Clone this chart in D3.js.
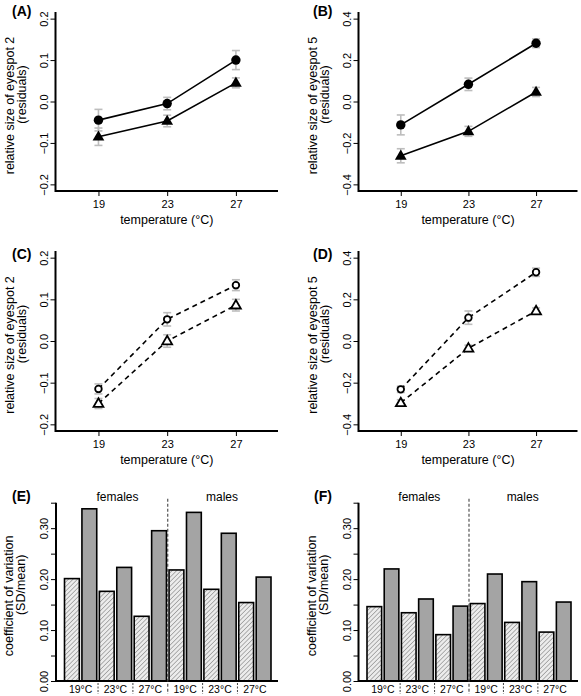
<!DOCTYPE html>
<html>
<head>
<meta charset="utf-8">
<script src="https://cdn.jsdelivr.net/npm/d3@7"></script>
<style>
  body { margin: 0; background: #fff; }
  svg { display: block; font-family: "Liberation Sans", Arial, Helvetica, sans-serif; }
</style>
</head>
<body>
<svg id="chart" width="581" height="696"></svg>
<script>
// ---------- DATA ----------
const temps = [19, 23, 27];

// Panel A: eyespot 2 (filled symbols)
const aCircle = [-0.045, -0.005, 0.100];
const aCircleErr = [0.026, 0.015, 0.023];
const aTriangle = [-0.085, -0.047, 0.045];
const aTriangleErr = [0.021, 0.014, 0.012];

// Panel B: eyespot 5 (filled symbols)
const bCircle = [-0.113, 0.083, 0.281];
const bCircleErr = [0.048, 0.030, 0.021];
const bTriangle = [-0.262, -0.144, 0.046];
const bTriangleErr = [0.034, 0.024, 0.022];

// Panel C: eyespot 2 (open symbols)
const cCircle = [-0.115, 0.052, 0.134];
const cCircleErr = [0.012, 0.016, 0.013];
const cTriangle = [-0.150, 0.000, 0.086];
const cTriangleErr = [0.012, 0.015, 0.014];

// Panel D: eyespot 5 (open symbols)
const dCircle = [-0.232, 0.112, 0.330];
const dCircleErr = [0.015, 0.032, 0.020];
const dTriangle = [-0.297, -0.035, 0.144];
const dTriangleErr = [0.015, 0.015, 0.015];

const lineTicksA = [-0.2, -0.1, 0.0, 0.1, 0.2];
const lineTicksB = [-0.4, -0.2, 0.0, 0.2, 0.4];

// Panels E, F: coefficient of variation (hatched, solid alternating)
const barLabels = ["19°C", "23°C", "27°C", "19°C", "23°C", "27°C"];
const sexLabels = ["females", "males"];
const eValues = [0.201, 0.338, 0.176, 0.223, 0.127, 0.295, 0.218, 0.331, 0.180, 0.290, 0.154, 0.204];
const fValues = [0.146, 0.220, 0.134, 0.161, 0.091, 0.147, 0.152, 0.210, 0.115, 0.195, 0.096, 0.155];
const barTicks = [0, 0.05, 0.10, 0.15, 0.20, 0.25, 0.30, 0.35];
const barTickLabels = ["0.00", "", "0.10", "", "0.20", "", "0.30", ""];

// ---------- DRAWING ----------
const svg = d3.select("#chart");
const defs = svg.append("defs");
const pat = defs.append("pattern").attr("id", "hatch")
  .attr("patternUnits", "userSpaceOnUse").attr("width", 3.2).attr("height", 3.2)
  .attr("patternTransform", "rotate(45)");
pat.append("rect").attr("width", 3.2).attr("height", 3.2).attr("fill", "#ececec");
pat.append("line").attr("x1", 0).attr("y1", 0).attr("x2", 0).attr("y2", 3.2)
  .attr("stroke", "#8c8c8c").attr("stroke-width", 1.3);

const fmt = v => (v < 0 ? "\u2212" : "") + Math.abs(v).toFixed(1);
const triPath = d3.symbol().type(d3.symbolTriangle);

function yTitle(g, cx, cy, l1, l2) {
  g.append("text").attr("transform", `translate(${cx + 13},${cy + 4}) rotate(-90)`)
    .attr("text-anchor", "middle").attr("font-size", 12.5).text(l1);
  g.append("text").attr("transform", `translate(${cx + 25},${cy - 7}) rotate(-90)`)
    .attr("text-anchor", "middle").attr("font-size", 12.5).text(l2);
}

function panelLetter(x, y, t) {
  svg.append("text").attr("x", x).attr("y", y).attr("font-size", 14)
    .attr("font-weight", "bold").text(t);
}

function linePanel(opt) {
  const { left, right, top, bottom, ylim, ticks, series, open, dashed, title2 } = opt;
  const x = d3.scaleLinear().domain([16.5, 29.45]).range([left, right]);
  const y = d3.scaleLinear().domain(ylim).range([bottom, top]);
  const g = svg.append("g");

  // y axis ticks
  const ya = g.append("g").attr("transform", `translate(${left},0)`)
    .call(d3.axisLeft(y).tickValues(ticks).tickSize(5).tickFormat(fmt));
  ya.select(".domain").remove();
  ya.selectAll("line").attr("stroke", "#000").attr("stroke-width", 1);
  ya.selectAll("text").attr("transform", "rotate(-90)").attr("x", 0).attr("y", -8)
    .attr("dy", 0).attr("text-anchor", "middle").attr("font-size", 11).attr("fill", "#000");

  // x axis ticks
  const xa = g.append("g").attr("transform", `translate(0,${bottom})`)
    .call(d3.axisBottom(x).tickValues(temps).tickSize(5).tickFormat(d3.format("d")));
  xa.select(".domain").remove();
  xa.selectAll("line").attr("stroke", "#000").attr("stroke-width", 1);
  xa.selectAll("text").attr("font-size", 11).attr("fill", "#000").attr("y", 9);

  // L box
  g.append("path").attr("d", `M${left},${top}V${bottom}H${right}`)
    .attr("fill", "none").attr("stroke", "#000").attr("stroke-width", 2);

  // titles
  g.append("text").attr("x", (left + right) / 2).attr("y", bottom + 33)
    .attr("text-anchor", "middle").attr("font-size", 12.5).text("temperature (°C)");
  yTitle(g, left - 55, (top + bottom) / 2, title2, "(residuals)");

  const line = d3.line().x((d, i) => x(temps[i])).y(d => y(d));
  series.forEach(s => {
    // error bars
    const eb = g.append("g").attr("stroke", "#bdbdbd").attr("stroke-width", 1.6);
    s.vals.forEach((v, i) => {
      const cx = x(temps[i]);
      eb.append("line").attr("x1", cx).attr("x2", cx).attr("y1", y(v - s.err[i])).attr("y2", y(v + s.err[i]));
      eb.append("line").attr("x1", cx - 4).attr("x2", cx + 4).attr("y1", y(v - s.err[i])).attr("y2", y(v - s.err[i]));
      eb.append("line").attr("x1", cx - 4).attr("x2", cx + 4).attr("y1", y(v + s.err[i])).attr("y2", y(v + s.err[i]));
    });
  });
  series.forEach(s => {
    g.append("path").datum(s.vals).attr("d", line).attr("fill", "none")
      .attr("stroke", "#000").attr("stroke-width", 1.6)
      .attr("stroke-dasharray", dashed ? "5,4" : null);
  });
  series.forEach(s => {
    s.vals.forEach((v, i) => {
      const cx = x(temps[i]), cy = y(v);
      if (s.shape === "circle") {
        if (open) {
          g.append("circle").attr("cx", cx).attr("cy", cy).attr("r", 3.3)
            .attr("fill", "#fff").attr("stroke", "#000").attr("stroke-width", 1.8);
        } else {
          g.append("circle").attr("cx", cx).attr("cy", cy).attr("r", 4.7).attr("fill", "#000");
        }
      } else {
        if (open) {
          g.append("path").attr("d", triPath.size(42)()).attr("transform", `translate(${cx},${cy + 0.5})`)
            .attr("fill", "#fff").attr("stroke", "#000").attr("stroke-width", 1.8);
        } else {
          g.append("path").attr("d", triPath.size(60)()).attr("transform", `translate(${cx},${cy + 0.5})`)
            .attr("fill", "#000");
        }
      }
    });
  });
}

function barPanel(opt) {
  const { left, right, top, bottom, values } = opt;
  const y = d3.scaleLinear().domain([0, 0.35]).range([bottom, top]);
  const x = d3.scaleBand().domain(d3.range(values.length)).range([left + 8.5, right - 7])
    .paddingInner(0.15).paddingOuter(0);
  const g = svg.append("g");

  const ya = g.append("g").attr("transform", `translate(${left},0)`)
    .call(d3.axisLeft(y).tickValues(barTicks).tickSize(5).tickFormat((d, i) => barTickLabels[i]));
  ya.select(".domain").remove();
  ya.selectAll("line").attr("stroke", "#000").attr("stroke-width", 1);
  ya.selectAll("text").attr("transform", "rotate(-90)").attr("x", 0).attr("y", -8)
    .attr("dy", 0).attr("text-anchor", "middle").attr("font-size", 11).attr("fill", "#000");

  g.selectAll("rect.bar").data(values).join("rect").attr("class", "bar")
    .attr("x", (d, i) => x(i)).attr("width", x.bandwidth())
    .attr("y", d => y(d)).attr("height", d => y(0) - y(d))
    .attr("fill", (d, i) => i % 2 === 0 ? "url(#hatch)" : "#a4a4a4")
    .attr("stroke", "#000").attr("stroke-width", 1.6);

  g.append("path").attr("d", `M${left},${top}V${bottom}H${right}`)
    .attr("fill", "none").attr("stroke", "#000").attr("stroke-width", 2);

  const step = x.step(), gap = step - x.bandwidth();
  // separators and group labels
  barLabels.forEach((lab, k) => {
    const cx = (x(2 * k) + x(2 * k + 1) + x.bandwidth()) / 2;
    g.append("text").attr("x", cx).attr("y", bottom + 12).attr("text-anchor", "middle")
      .attr("font-size", 10.5).text(lab);
    if (k > 0 && k !== 3) {
      const sx = x(2 * k) - gap / 2;
      g.append("line").attr("x1", sx).attr("x2", sx).attr("y1", bottom + 2).attr("y2", bottom + 13)
        .attr("stroke", "#444").attr("stroke-width", 1).attr("stroke-dasharray", "2,1.5");
    }
  });
  const mid = x(6) - gap / 2;
  g.append("line").attr("x1", mid).attr("x2", mid).attr("y1", top - 4).attr("y2", bottom + 13)
    .attr("stroke", "#444").attr("stroke-width", 1.1).attr("stroke-dasharray", "3,2");

  sexLabels.forEach((lab, k) => {
    const cx = (x(6 * k) + x(6 * k + 5) + x.bandwidth()) / 2 + 2;
    g.append("text").attr("x", cx).attr("y", top - 2).attr("text-anchor", "middle")
      .attr("font-size", 12).text(lab);
  });

  yTitle(g, left - 56, (top + bottom) / 2, "coefficient of variation", "(SD/mean)");
}

const L = { left: 55.5, right: 278 }, R = { left: 358.5, right: 577.5 };
const row1 = { top: 12, bottom: 191 }, row2 = { top: 251, bottom: 431 }, row3 = { top: 502.7, bottom: 681 };

linePanel({ ...L, ...row1, ylim: [-0.216, 0.216], ticks: lineTicksA, dashed: false, open: false,
  title2: "relative size of eyespot 2",
  series: [{ vals: aCircle, err: aCircleErr, shape: "circle" }, { vals: aTriangle, err: aTriangleErr, shape: "tri" }] });
linePanel({ ...R, ...row1, ylim: [-0.432, 0.432], ticks: lineTicksB, dashed: false, open: false,
  title2: "relative size of eyespot 5",
  series: [{ vals: bCircle, err: bCircleErr, shape: "circle" }, { vals: bTriangle, err: bTriangleErr, shape: "tri" }] });
linePanel({ ...L, ...row2, ylim: [-0.216, 0.216], ticks: lineTicksA, dashed: true, open: true,
  title2: "relative size of eyespot 2",
  series: [{ vals: cCircle, err: cCircleErr, shape: "circle" }, { vals: cTriangle, err: cTriangleErr, shape: "tri" }] });
linePanel({ ...R, ...row2, ylim: [-0.432, 0.432], ticks: lineTicksB, dashed: true, open: true,
  title2: "relative size of eyespot 5",
  series: [{ vals: dCircle, err: dCircleErr, shape: "circle" }, { vals: dTriangle, err: dTriangleErr, shape: "tri" }] });
barPanel({ left: 56, right: 278, ...row3, values: eValues });
barPanel({ left: 358.5, right: 578, ...row3, values: fValues });

panelLetter(12, 16, "(A)");
panelLetter(313, 16, "(B)");
panelLetter(12, 259, "(C)");
panelLetter(313, 259, "(D)");
panelLetter(12, 501, "(E)");
panelLetter(314, 501, "(F)");
</script>
</body>
</html>
